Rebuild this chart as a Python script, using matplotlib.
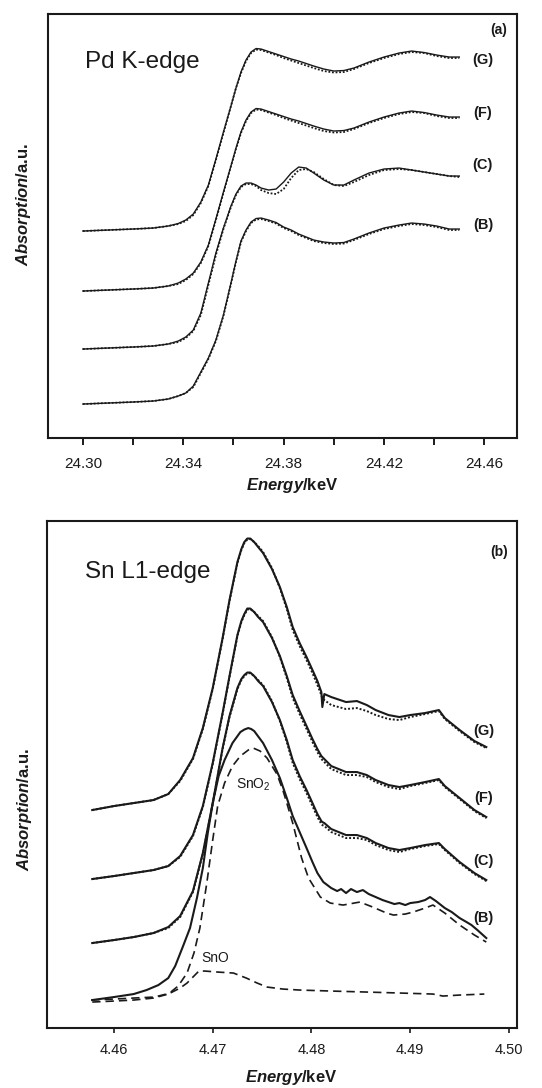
import matplotlib
matplotlib.use('Agg')
import matplotlib.pyplot as plt
from matplotlib.ticker import MultipleLocator, FormatStrFormatter

plt.rcParams['font.family'] = ['Liberation Sans', 'DejaVu Sans']
plt.rcParams['mathtext.fontset'] = 'custom'
plt.rcParams['mathtext.rm'] = 'Liberation Sans'
plt.rcParams['mathtext.bf'] = 'Liberation Sans:bold'
plt.rcParams['mathtext.bfit'] = 'Liberation Sans:italic:bold'

# ---- Pd K-edge (a): energy in keV, absorption in a.u. (stacked) ----
pd_energy = [24.300, 24.310, 24.320, 24.328, 24.334, 24.338, 24.341, 24.344, 24.347, 24.350,
             24.353, 24.356, 24.359, 24.361, 24.363, 24.365, 24.367, 24.369, 24.371, 24.374,
             24.377, 24.380, 24.383, 24.386, 24.389, 24.392, 24.396, 24.400, 24.404, 24.408,
             24.414, 24.420, 24.426, 24.431, 24.436, 24.441, 24.446, 24.450]
pd_G = [207, 208, 209, 210, 212, 214.5, 218, 224, 236, 253, 279, 306, 332, 350, 366, 378,
        386, 389.5, 389, 386.5, 384, 381.5, 379, 377, 374.5, 372, 369, 367, 367.5, 370,
        376, 381, 385, 387, 385.5, 383, 381, 381]
pd_G_fit = [207, 208, 209, 210, 212, 214, 217, 223, 235, 252, 278, 305, 332, 350, 365, 377,
            385, 388.5, 388, 385.5, 383, 380, 377.5, 375, 372.5, 370, 367, 365.5, 366, 369,
            375, 380, 384, 386, 385, 382, 380, 380]
pd_F = [147, 148, 149, 150, 152, 155, 159, 165, 176, 193, 219, 246, 272, 290, 306, 318,
        326, 329.5, 329, 326.5, 324, 321.5, 319, 317, 314.5, 312, 309, 307, 307.5, 310,
        316, 321, 325, 327, 325.5, 323, 321, 321]
pd_F_fit = [147, 148, 149, 150, 152, 154, 158, 164, 175, 192, 218, 245, 272, 289, 305, 317,
            325, 328.5, 328, 325.5, 323, 320, 317.5, 315, 312.5, 310, 307, 305.5, 306, 309,
            315, 320, 324, 326, 325, 322, 320, 320]
pd_C = [89, 90, 91, 92, 94, 97, 101, 108, 125, 155, 185, 210, 232, 244, 252, 255,
        255, 253, 250, 248, 249, 256, 265, 271, 270, 265, 258, 253, 253, 258,
        265, 269, 270, 268, 266, 264, 262, 262]
pd_C_fit = [89, 90, 91, 92, 94, 96, 100, 107, 123, 153, 183, 209, 231, 243, 251, 254,
            254, 252, 248, 245, 244, 249, 260, 268, 269, 266, 259, 253, 252, 256,
            263, 268, 269, 268, 266, 264, 262, 261]
pd_B = [34, 35, 36, 37, 39, 42, 45, 52, 66, 80, 98, 123, 155, 177, 197, 208,
        216, 219.5, 220, 218, 215.5, 211, 208, 204, 201, 198, 196, 195, 195.5, 199,
        205, 210, 213, 215, 214, 212, 209, 209]
pd_B_fit = [34, 35, 36, 37, 39, 42, 45, 51, 65, 79, 97, 122, 154, 176, 196, 207,
            215, 218.5, 219, 217, 214.5, 210, 207, 203, 200, 197, 195, 194, 194.5, 198,
            204, 209, 212, 214, 213, 211, 208, 208]
pd_major = [24.30, 24.34, 24.38, 24.42, 24.46]
pd_minor = [24.32, 24.36, 24.40, 24.44]

# ---- Sn L1-edge (b) ----
sn_energy = [4.4578, 4.4600, 4.4620, 4.4640, 4.4655, 4.4667, 4.4680, 4.4690, 4.4700, 4.4710,
             4.4717, 4.4725, 4.4729, 4.4732, 4.4735, 4.4738, 4.4742, 4.4746, 4.4751, 4.4760,
             4.4768, 4.4775, 4.4781, 4.4788, 4.4795, 4.4801, 4.4806, 4.4810, 4.4811, 4.4813,
             4.4820, 4.4835, 4.4846, 4.4856, 4.4865, 4.4878, 4.4889, 4.4900, 4.4915, 4.4929,
             4.4935, 4.4950, 4.4965, 4.4977]
sn_G = [218, 222, 225, 228, 234, 248, 270, 300, 340, 390, 428, 466, 479, 486, 489.5,
        489.5, 486, 481, 475, 459, 441, 421, 401, 385, 371, 358, 347, 336, 321, 334,
        331, 326, 327, 323, 318, 313, 311, 313, 315, 318, 310, 298, 287, 281]
sn_G_fit = [218, 222, 225, 228, 234, 247, 269, 299, 339, 389, 427, 465, 478, 485, 488.5,
            489, 486, 482, 476, 460, 440, 419, 398, 382, 368, 355, 343, 333, 330, 328,
            323, 319, 320, 317, 313, 309, 308, 311, 314, 317, 309, 297, 286, 280]
sn_F = [149, 152, 155, 158, 162, 172, 193, 222, 265, 315, 352, 393, 407, 414, 419.5,
        419.5, 416, 411, 406, 390, 372, 352, 333, 317, 302, 289, 279, 272, 271, 269,
        262, 256, 256, 253, 248, 243, 241, 243, 246, 249, 242, 230, 218, 211]
sn_F_fit = [149, 152, 155, 158, 162, 171, 192, 221, 264, 314, 351, 392, 406, 413, 418.5,
            419, 416, 412, 407, 391, 371, 350, 330, 314, 299, 286, 276, 269, 268, 266,
            259, 253, 253, 251, 246, 241, 239, 242, 245, 248, 241, 229, 217, 210]
sn_C = [85, 88, 91, 95, 101, 112, 137, 175, 225, 280, 312, 340, 349, 353, 355.5,
        355.5, 352, 347, 342, 326, 308, 288, 268, 252, 238, 225, 214, 207, 206, 205,
        199, 193, 193, 190, 185, 180, 178, 180, 183, 185, 179, 166, 155, 148]
sn_C_fit = [85, 88, 91, 95, 100, 111, 136, 174, 224, 279, 311, 339, 348, 352, 354.5,
            355, 352, 348, 343, 327, 307, 286, 265, 249, 235, 222, 211, 204, 203, 202,
            196, 190, 190, 188, 183, 178, 176, 179, 182, 184, 178, 165, 154, 147]

snB_energy = [4.4578, 4.4600, 4.4620, 4.4633, 4.4645, 4.4655, 4.4662, 4.4670, 4.4677, 4.4684,
              4.4690, 4.4695, 4.4700, 4.4706, 4.4712, 4.4720, 4.4728, 4.4732, 4.4736, 4.4739,
              4.4742, 4.4751, 4.4760, 4.4768, 4.4775, 4.4781, 4.4788, 4.4795, 4.4801, 4.4806,
              4.4812, 4.4820, 4.4826, 4.4830, 4.4835, 4.4840, 4.4846, 4.4852, 4.4858, 4.4865,
              4.4872, 4.4878, 4.4884, 4.4889, 4.4895, 4.4900, 4.4908, 4.4915, 4.4920, 4.4926,
              4.4935, 4.4942, 4.4950, 4.4957, 4.4962, 4.4968, 4.4977]
sn_B = [28, 31, 34, 38, 43, 50, 62, 82, 100, 130, 160, 195, 225, 252, 268, 285, 296,
        298.5, 300, 299, 297, 285, 268, 250, 230, 212, 196, 180, 166, 155, 146, 140,
        137, 139, 135, 139, 136, 138, 134, 131, 128, 126, 124, 125, 123, 125, 126, 128,
        131, 127, 120, 116, 110, 106, 103, 98, 90]

sno2_energy = [4.4578, 4.4600, 4.4620, 4.4640, 4.4655, 4.4665, 4.4674, 4.4681, 4.4687, 4.4694,
               4.4700, 4.4705, 4.4712, 4.4720, 4.4728, 4.4736, 4.4741, 4.4748, 4.4755, 4.4765,
               4.4771, 4.4775, 4.4781, 4.4790, 4.4797, 4.4809, 4.4819, 4.4832, 4.4849, 4.4862,
               4.4876, 4.4883, 4.4895, 4.4903, 4.4915, 4.4923, 4.4935, 4.4950, 4.4965, 4.4977]
sn_SnO2 = [26, 27, 28, 30, 34, 42, 55, 75, 100, 145, 188, 222, 245, 262, 272, 278, 280,
           277, 270, 254, 238, 225, 205, 170, 150, 131, 125, 123, 126, 121, 115, 113, 114,
           116, 120, 123, 115, 103, 93, 86]

sno_energy = [4.4577, 4.4600, 4.4620, 4.4641, 4.4657, 4.4667, 4.4674, 4.4680, 4.4686, 4.4692,
              4.4705, 4.4721, 4.4734, 4.4745, 4.4755, 4.4771, 4.4788, 4.4820, 4.4856, 4.4890,
              4.4923, 4.4933, 4.4950, 4.4975]
sn_SnO = [28, 29, 30, 31, 35, 40, 45, 51, 57, 57, 56, 55, 50, 45, 41, 39, 38, 37, 36,
          35, 34, 32, 33, 34]

ink = '#1a1a1a'

fig = plt.figure(figsize=(5.42, 10.88), dpi=100)
ax1 = fig.add_axes([0.0886, 0.5974, 0.8653, 0.3897])
ax2 = fig.add_axes([0.0867, 0.0551, 0.8672, 0.4660])

# panel (a)
for exp, fit in [(pd_G, pd_G_fit), (pd_F, pd_F_fit), (pd_C, pd_C_fit), (pd_B, pd_B_fit)]:
    ax1.plot(pd_energy, exp, color=ink, lw=1.0)
    ax1.plot(pd_energy, fit, color=ink, lw=1.3, ls=(0, (1, 1)))

ax1.set_xlim(24.2861, 24.4730)
ax1.set_ylim(0, 424)
ax1.set_xticks(pd_major)
ax1.set_xticks(pd_minor, minor=True)
ax1.xaxis.set_major_formatter(FormatStrFormatter('%.2f'))
ax1.tick_params(axis='x', which='both', direction='out', length=5, width=1.4,
                colors=ink, labelsize=11, pad=9)
ax1.set_yticks([])

ax1.text(24.3008, 376, 'Pd K-edge', fontsize=17.5, ha='left', va='center', color=ink)
ax1.text(24.4658, 408, '(a)', fontsize=10, fontweight='bold', ha='center', va='center', color=ink)
for lab, yv in [('(G)', 378), ('(F)', 325), ('(C)', 273), ('(B)', 213)]:
    ax1.text(24.4594, yv, lab, fontsize=10.5, fontweight='bold', ha='center', va='center', color=ink)

# panel (b)
for exp, fit in [(sn_G, sn_G_fit), (sn_F, sn_F_fit), (sn_C, sn_C_fit)]:
    ax2.plot(sn_energy, exp, color=ink, lw=1.5)
    ax2.plot(sn_energy, fit, color=ink, lw=1.4, ls=(0, (1, 1)))
ax2.plot(snB_energy, sn_B, color=ink, lw=1.5)
ax2.plot(sno2_energy, sn_SnO2, color=ink, lw=1.2, ls=(0, (5, 3)))
ax2.plot(sno_energy, sn_SnO, color=ink, lw=1.2, ls=(0, (5, 3)))

ax2.set_xlim(4.45322, 4.50081)
ax2.set_ylim(0, 507)
ax2.xaxis.set_major_locator(MultipleLocator(0.01))
ax2.xaxis.set_major_formatter(FormatStrFormatter('%.2f'))
ax2.tick_params(axis='x', direction='out', length=3.5, width=1.2,
                colors=ink, labelsize=10.5, pad=7)
ax2.set_yticks([])

ax2.text(4.45706, 456, 'Sn L1-edge', fontsize=17.5, ha='left', va='center', color=ink)
ax2.text(4.4990, 476, '(b)', fontsize=10, fontweight='bold', ha='center', va='center', color=ink)
for lab, yv in [('(G)', 297), ('(F)', 230), ('(C)', 167), ('(B)', 110)]:
    ax2.text(4.4974, yv, lab, fontsize=10.5, fontweight='bold', ha='center', va='center', color=ink)
ax2.text(4.4741, 243, r'SnO$_\mathregular{2}$', fontsize=10, ha='center', va='center', color=ink)
ax2.text(4.4703, 70, 'SnO', fontsize=10, ha='center', va='center', color=ink)

for ax, lx, ly, yx, yy in [(ax1, 0.52, -0.090, -0.032, 0.552), (ax2, 0.52, -0.079, -0.028, 0.432)]:
    for s in ax.spines.values():
        s.set_linewidth(1.5)
        s.set_color(ink)
    ax.set_xlabel(r'$\mathbfit{Energy}$/keV', fontsize=12, fontweight='bold', color=ink)
    ax.set_ylabel(r'$\mathbfit{Absorption}$/a.u.', fontsize=12, fontweight='bold', color=ink)
    ax.xaxis.set_label_coords(lx, ly)
    ax.yaxis.set_label_coords(yx, yy)

fig.savefig('out.png', dpi=100)
